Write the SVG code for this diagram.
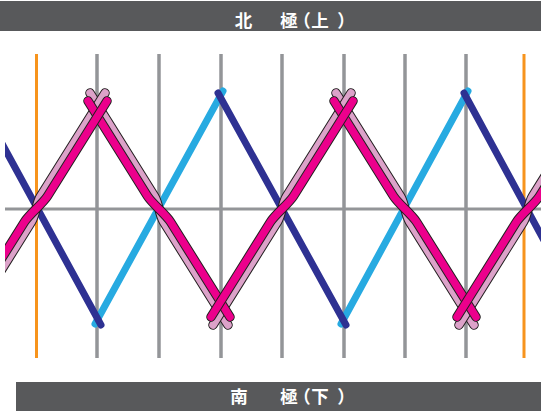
<svg xmlns="http://www.w3.org/2000/svg" xmlns:xlink="http://www.w3.org/1999/xlink" width="541" height="411" viewBox="0 0 541 411">
<style>
.bar{fill:#58595b}
.lbl{font-family:"Noto Sans CJK SC","Noto Sans CJK JP",sans-serif;font-size:17.5px;font-weight:bold;fill:#ffffff;text-anchor:middle}
.grid{stroke:#939598;stroke-width:3.5;fill:none}
.ax{stroke:#f7941d;stroke-width:3;fill:none}
.hz{stroke:#939598;stroke-width:3;fill:none}
.db{stroke:#2e3192;stroke-width:7;stroke-linecap:round;fill:none}
.lb{stroke:#27aae1;stroke-width:7;stroke-linecap:round;fill:none}
.ol{fill:none;stroke:#231f20;stroke-width:9.5;stroke-linecap:round;stroke-linejoin:round}
.pk{fill:none;stroke:#dca2c9;stroke-width:7.5;stroke-linecap:round;stroke-linejoin:round}
.mg{fill:none;stroke:#ec008c;stroke-width:7.5;stroke-linecap:round;stroke-linejoin:round}
</style>
<defs>
<clipPath id="clip"><rect x="5" y="0" width="536" height="411"/></clipPath>
<path id="ascPink" d="M-69,325 L-4.6,222 C0.4,214 -0.4,204 4.6,196 L69,93"/>
<path id="ascMag" d="M-71,317 L-11.6,222 C-6.6,214 6.6,204 11.6,196 L71,101"/>
<path id="descPink" d="M-69,93 L-4.6,196 C0.4,204 -0.4,214 4.6,222 L69,325"/>
<path id="descMag" d="M-71,101 L-11.6,196 C-6.6,204 6.6,214 11.6,222 L71,317"/>
</defs>
<rect width="541" height="411" fill="#ffffff"/>
<g id="north-bar">
<rect class="bar" x="0" y="1" width="541" height="30"/>
<text class="lbl" x="243.6 289 302 320 346" y="26.5">北極（上）</text>
</g>
<g id="south-bar">
<rect class="bar" x="16" y="382" width="525" height="29"/>
<text class="lbl" x="239 289 302 320 346" y="403">南極（下）</text>
</g>
<g id="plot" clip-path="url(#clip)">
<g id="grid">
<line class="grid" x1="97" y1="54" x2="97" y2="358"/>
<line class="grid" x1="159" y1="54" x2="159" y2="358"/>
<line class="grid" x1="221" y1="54" x2="221" y2="358"/>
<line class="grid" x1="282" y1="54" x2="282" y2="358"/>
<line class="grid" x1="344" y1="54" x2="344" y2="358"/>
<line class="grid" x1="405" y1="54" x2="405" y2="358"/>
<line class="grid" x1="466" y1="54" x2="466" y2="358"/>
<line class="ax" x1="36.5" y1="54" x2="36.5" y2="358"/>
<line class="ax" x1="524" y1="54" x2="524" y2="358"/>
<line class="hz" x1="0" y1="209" x2="541" y2="209"/>
</g>
<g id="connectors">
<g id="blue">
<line class="lb" x1="95" y1="324" x2="223" y2="91"/>
<line class="lb" x1="341" y1="324" x2="468" y2="91"/>
<line class="db" x1="0" y1="140" x2="101" y2="325"/>
<line class="db" x1="218" y1="93" x2="346" y2="325"/>
<line class="db" x1="464" y1="93" x2="560" y2="270"/>
</g>
<g id="ribbon">
<use href="#descPink" x="159" class="ol"/><use href="#descPink" x="159" class="pk"/>
<use href="#descPink" x="405" class="ol"/><use href="#descPink" x="405" class="pk"/>
<use href="#ascPink" x="36" class="ol"/><use href="#ascPink" x="36" class="pk"/>
<use href="#ascPink" x="282" class="ol"/><use href="#ascPink" x="282" class="pk"/>
<use href="#ascPink" x="528" class="ol"/><use href="#ascPink" x="528" class="pk"/>
<use href="#descMag" x="159" class="ol"/><use href="#descMag" x="159" class="mg"/>
<use href="#descMag" x="405" class="ol"/><use href="#descMag" x="405" class="mg"/>
<use href="#ascMag" x="36" class="ol"/><use href="#ascMag" x="36" class="mg"/>
<use href="#ascMag" x="282" class="ol"/><use href="#ascMag" x="282" class="mg"/>
<use href="#ascMag" x="528" class="ol"/><use href="#ascMag" x="528" class="mg"/>
</g>
</g>
</g>
</svg>
